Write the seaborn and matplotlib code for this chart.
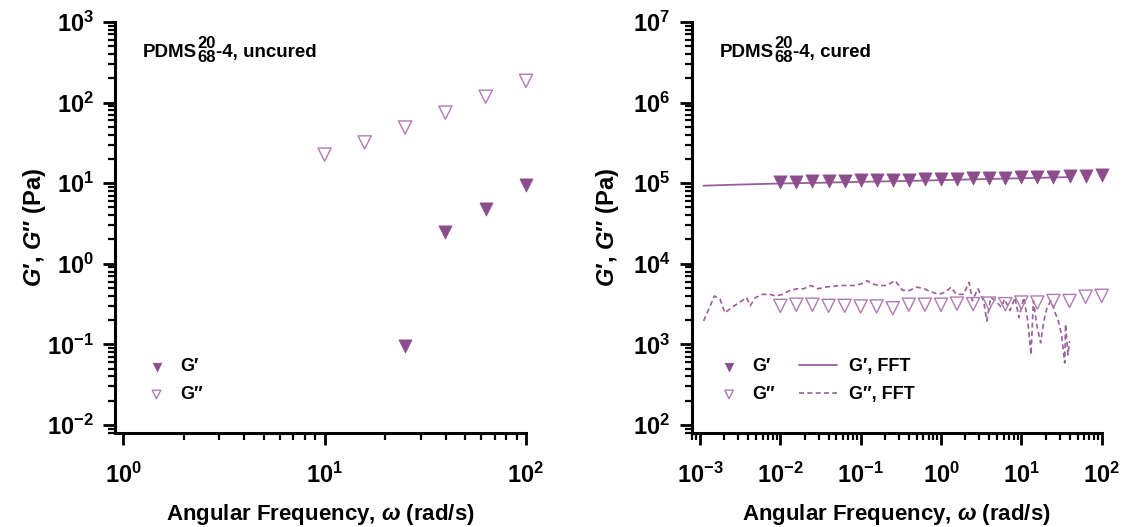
import numpy as np
import pandas as pd
import matplotlib
matplotlib.use("Agg")
import matplotlib.pyplot as plt
import seaborn as sns
from matplotlib.ticker import LogLocator, FuncFormatter, NullFormatter

# %% data -------------------------------------------------------------
# uncured sample
w_unc_gpp = [10, 15.8, 25.1, 39.8, 63.1, 100]
gpp_unc = [22.6, 32.0, 49.0, 75.0, 118.0, 186.0]
w_unc_gp = [25.1, 39.8, 63.1, 100]
gp_unc = [0.095, 2.45, 4.8, 9.4]

# cured sample, frequency sweep (5 pts / decade)
w_cur = [0.01, 0.0158, 0.0251, 0.0398, 0.0631, 0.1, 0.158, 0.251, 0.398, 0.631,
         1.0, 1.58, 2.51, 3.98, 6.31, 10.0, 15.8, 25.1, 39.8, 63.1, 100]
gp_cur = [1.03e5, 1.04e5, 1.05e5, 1.06e5, 1.07e5, 1.08e5, 1.09e5, 1.10e5, 1.11e5,
          1.12e5, 1.13e5, 1.14e5, 1.15e5, 1.16e5, 1.17e5, 1.18e5, 1.19e5, 1.20e5,
          1.21e5, 1.24e5, 1.27e5]
gpp_cur = [3.0e3, 3.1e3, 3.1e3, 3.0e3, 3.0e3, 2.95e3, 2.95e3, 2.8e3, 3.1e3, 3.1e3,
           3.1e3, 3.2e3, 3.15e3, 3.2e3, 3.15e3, 3.3e3, 3.3e3, 3.45e3, 3.45e3,
           3.9e3, 4.0e3]

# FFT (strain-pulse) data
w_fft_gp = [1.1e-3, 3e-3, 1e-2, 3e-2, 0.1, 0.3, 1.0, 3.0, 10.0, 20.0, 40.0]
gp_fft = [9.3e4, 9.6e4, 9.9e4, 1.01e5, 1.04e5, 1.06e5, 1.09e5, 1.12e5, 1.15e5,
          1.17e5, 1.19e5]
logw_fft_gpp = [-2.955, -2.82, -2.75, -2.69, -2.6, -2.51, -2.42, -2.375, -2.31,
                -2.22, -2.13, -2.06, -1.97, -1.88, -1.79, -1.71, -1.62, -1.53,
                -1.44, -1.35, -1.26, -1.17, -1.08, -0.99, -0.92, -0.86, -0.77,
                -0.68, -0.57, -0.48, -0.39, -0.30, -0.21, -0.12, -0.03, 0.06,
                0.125, 0.19, 0.28, 0.35, 0.39, 0.46, 0.53, 0.57, 0.62, 0.68,
                0.75, 0.79, 0.86, 0.92, 0.97, 1.03, 1.08, 1.12, 1.15, 1.19,
                1.24, 1.28, 1.32, 1.37, 1.41, 1.46, 1.50, 1.54, 1.55, 1.58, 1.60]
loggpp_fft = [3.29, 3.60, 3.56, 3.39, 3.46, 3.52, 3.58, 3.48, 3.58, 3.62, 3.62,
              3.60, 3.62, 3.67, 3.69, 3.69, 3.73, 3.69, 3.71, 3.72, 3.73, 3.73,
              3.73, 3.75, 3.79, 3.75, 3.73, 3.73, 3.79, 3.67, 3.67, 3.71, 3.69,
              3.65, 3.62, 3.65, 3.71, 3.62, 3.62, 3.77, 3.54, 3.69, 3.54, 3.29,
              3.58, 3.54, 3.46, 3.56, 3.42, 3.58, 3.33, 3.58, 3.29, 2.87, 3.54,
              3.25, 3.02, 3.29, 3.46, 3.54, 3.42, 3.29, 3.12, 2.77, 3.25, 2.87,
              3.04]

# %% style ------------------------------------------------------------
sns.set_theme(style="ticks")
plt.rcParams.update({
    "font.family": ["Liberation Sans", "DejaVu Sans"],
    "font.weight": "bold",
    "text.color": "black",
    "axes.labelcolor": "black",
    "axes.edgecolor": "black",
    "xtick.color": "black",
    "ytick.color": "black",
    "mathtext.fontset": "custom",
    "mathtext.rm": "Liberation Sans:bold",
    "mathtext.it": "Liberation Sans:italic:bold",
    "mathtext.bf": "Liberation Sans:bold",
    "mathtext.default": "rm",
    "axes.linewidth": 2.2,
})

c_fill = "#8C4D8C"
c_open = "#B07AB2"
c_line = "#9A5E9A"

fig = plt.figure(figsize=(11.22, 5.27), dpi=100)
ax1 = fig.add_axes([0.1029, 0.1784, 0.3659, 0.7799])
ax2 = fig.add_axes([0.6165, 0.1784, 0.3654, 0.7799])

def dec_fmt(v, pos):
    e = int(round(np.log10(v)))
    return r"$\mathregular{10^{%d}}$" % e

def style_axes(ax, xlim, ylim, ylab_x):
    ax.set_xscale("log")
    ax.set_yscale("log")
    ax.set_xlim(*xlim)
    ax.set_ylim(*ylim)
    sns.despine(ax=ax)
    for a in (ax.xaxis, ax.yaxis):
        a.set_major_locator(LogLocator(base=10, numticks=20))
        a.set_minor_locator(LogLocator(base=10, subs=np.arange(2, 10), numticks=100))
        a.set_major_formatter(FuncFormatter(dec_fmt))
        a.set_minor_formatter(NullFormatter())
    ax.tick_params(which="major", length=8.5, width=2.0, labelsize=17)
    ax.tick_params(axis="x", which="major", pad=13)
    ax.tick_params(axis="y", which="major", pad=7)
    ax.tick_params(which="minor", length=5, width=1.6)
    ax.set_xlabel(r"Angular Frequency, $\mathit{\omega}$ (rad/s)", fontsize=16,
                  fontweight="bold", labelpad=10)
    ax.set_ylabel(r"$\mathit{G}$′, $\mathit{G}$″ (Pa)", fontsize=17,
                  fontweight="bold")
    ax.yaxis.set_label_coords(ylab_x, 0.5)

def sample_label(ax, x, rest):
    t1 = ax.text(x, 0.905, "PDMS", transform=ax.transAxes, fontsize=13.5,
                 fontweight="bold", va="bottom", ha="left")
    ax.annotate("20", xy=(1, 0.6), xycoords=t1, xytext=(0.3, -0.3),
                textcoords="offset points", fontsize=12,
                fontweight="bold", va="bottom", ha="left")
    sub = ax.annotate("68", xy=(1, 0.6), xycoords=t1, xytext=(0.3, 0.3),
                      textcoords="offset points", fontsize=12,
                      fontweight="bold", va="top", ha="left")
    ax.annotate(rest, xy=(1, 0), xycoords=(sub, t1), fontsize=13.5,
                fontweight="bold", va="bottom", ha="left")

# %% left: uncured ---------------------------------------------------------
df_unc_pp = pd.DataFrame({"w": w_unc_gpp, "G": gpp_unc})
df_unc_p = pd.DataFrame({"w": w_unc_gp, "G": gp_unc})
sns.scatterplot(data=df_unc_p, x="w", y="G", ax=ax1, marker="v", s=90,
                color=c_fill, edgecolor=c_fill, linewidth=0.5, label="G′",
                clip_on=False)
sns.scatterplot(data=df_unc_pp, x="w", y="G", ax=ax1, marker="v", s=90,
                facecolor="none", edgecolor=c_open, linewidth=1.0, label="G″",
                clip_on=False)
style_axes(ax1, (0.915, 100), (10 ** -2.1, 1e3), -0.165)
sample_label(ax1, 0.067, "-4, uncured")
ax1.legend(loc="center left", bbox_to_anchor=(0.078, 0.127), frameon=False,
           fontsize=13, markerscale=0.65, handlelength=1.0, handletextpad=0.8,
           labelspacing=0.6, borderpad=0, borderaxespad=0)

# %% right: cured ----------------------------------------------------------
df_cur = pd.DataFrame({"w": w_cur, "Gp": gp_cur, "Gpp": gpp_cur})
df_fft_p = pd.DataFrame({"w": w_fft_gp, "G": gp_fft})
df_fft_pp = pd.DataFrame({"w": 10 ** np.array(logw_fft_gpp),
                          "G": 10 ** np.array(loggpp_fft)})

sns.lineplot(data=df_fft_p, x="w", y="G", ax=ax2, color=c_line, linewidth=1.3,
             estimator=None, sort=False, label="G′, FFT")
sns.lineplot(data=df_fft_pp, x="w", y="G", ax=ax2, color=c_line, linewidth=1.2,
             estimator=None, sort=False, linestyle=(0, (3, 2)), label="G″, FFT")
sns.scatterplot(data=df_cur, x="w", y="Gp", ax=ax2, marker="v", s=90,
                color=c_fill, edgecolor=c_fill, linewidth=0.5, label="G′",
                zorder=3, clip_on=False)
sns.scatterplot(data=df_cur, x="w", y="Gpp", ax=ax2, marker="v", s=90,
                facecolor="none", edgecolor=c_open, linewidth=1.0, label="G″",
                zorder=3, clip_on=False)
style_axes(ax2, (10 ** -3.103, 100), (10 ** 1.9, 1e7), -0.172)
sample_label(ax2, 0.069, "-4, cured")

h, l = ax2.get_legend_handles_labels()
hd = dict(zip(l, h))
leg_a = ax2.legend([hd["G′"], hd["G″"]], ["G′", "G″"], loc="center left",
                   bbox_to_anchor=(0.069, 0.127), frameon=False, fontsize=13,
                   markerscale=0.65, handlelength=1.0, handletextpad=0.8,
                   labelspacing=0.6, borderpad=0, borderaxespad=0)
ax2.add_artist(leg_a)
ax2.legend([hd["G′, FFT"], hd["G″, FFT"]], ["G′, FFT", "G″, FFT"],
           loc="center left", bbox_to_anchor=(0.262, 0.127), frameon=False,
           fontsize=13, handlelength=2.1, handletextpad=0.64, labelspacing=0.6,
           borderpad=0, borderaxespad=0)

fig.savefig("out.png", dpi=100)
